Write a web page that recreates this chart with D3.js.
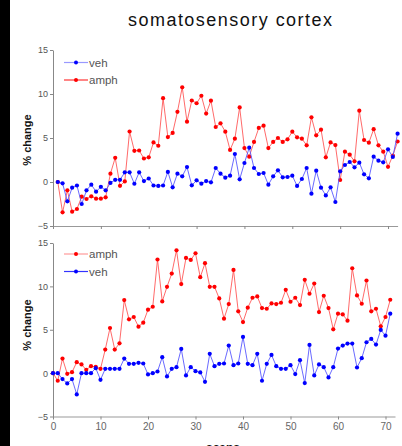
<!DOCTYPE html>
<html><head><meta charset="utf-8">
<script src="https://cdn.jsdelivr.net/npm/d3@7"></script>
<style>body{margin:0;background:#fff}svg{display:block}text{font-family:"Liberation Sans",Arial,Helvetica,sans-serif}</style>
</head><body>
<svg id="c" width="402" height="446"></svg>
<script>
const title = "somatosensory cortex";
const yLabel = "% change";
const xLabel = "scans";
const xTicks = [0,10,20,30,40,50,60,70];
const yTicks = [-5,0,5,10,15];

// top panel: scans 1..72
const topVeh = [0,-0.15,-2.2,-0.65,-0.4,-2.5,-0.95,-0.3,-1.1,-0.55,-0.95,-0.1,0.25,0.25,1.1,1.1,-0.2,1.1,0.1,0.4,-0.4,-0.45,-0.4,1.15,-0.6,0.95,0.65,1.7,-0.38,0.19,-0.19,0.11,-0.04,1.59,0.95,0.49,0.72,3.18,0.3,2.16,3.9,1.59,0.91,1.02,-0.3,0.64,1.33,0.53,0.57,0.72,-0.45,0.34,1.59,-1.33,1.29,-0.64,-1.52,-0.61,-2.27,1.21,1.93,2.27,1.67,2.2,0.87,0.42,2.88,2.42,2.24,3.71,2.84,5.49];
const topAmph = [0,-3.45,-0.95,-3.37,-3.07,-1.67,-1.93,-1.63,-1.9,-1.9,-1.74,0.95,2.75,-0.43,0.06,5.74,3.54,3.58,2.67,2.8,4.5,4.12,9.52,5.1,5.58,7.97,10.76,6.86,9.26,8.95,9.8,7.77,9.24,6.25,6.67,5.72,3.64,4.92,8.48,3.86,2.88,4.55,6.14,6.4,3.86,4.55,5.0,4.55,4.85,5.72,5.08,4.92,4.17,7.35,5.3,5.95,2.8,4.5,4.2,0.23,3.45,3.1,2.35,8.1,4.77,4.47,6.0,4.17,3.45,1.72,3.0,4.6];
// bottom panel: scans 0..71
const botAmph = [0,-0.88,1.68,-0.08,0.11,1.26,1.0,0.38,0.8,0.73,0.5,2.72,5.2,2.72,3.44,8.42,6.2,6.47,5.36,5.82,7.31,7.65,13.1,8.27,9.95,11.48,14.16,10.26,13.28,13.05,13.82,11.06,12.67,9.95,9.95,8.61,6.28,7.96,11.9,7.12,5.89,7.54,8.69,8.84,7.5,7.42,8.04,7.96,8.11,9.6,8.23,8.69,7.85,10.75,9.15,10.33,7.04,8.92,7.5,5.05,6.85,6.77,6.05,12.09,8.96,8.0,10.68,7.12,7.42,5.4,6.47,8.46];
const botVeh = [0,0,-0.69,-1.19,-0.69,-2.45,0,0,0,0.57,-0.77,0.5,0.5,0.5,0.5,1.68,1.07,1.07,1.19,1.11,-0.15,0,0.19,1.84,-0.38,0.5,0.69,2.79,-0.27,0.69,0.23,0.08,-1.0,2.22,0.8,1.07,1.11,3.18,0.92,1.11,4.17,1.07,0.92,2.22,-0.88,1.07,2.1,0.8,0.5,0.5,0.92,-0.11,1.49,-1.15,3.25,-0.27,1.0,0.69,-0.5,0.69,2.83,3.18,3.41,3.41,0.65,1.72,3.56,3.94,3.29,4.98,4.32,6.85];

const svg = d3.select("#c");
svg.append("rect").attr("x",0).attr("y",0).attr("width",10).attr("height",446).attr("fill","#000");
svg.append("text").attr("x",230).attr("y",25.5).attr("text-anchor","middle")
  .attr("font-size",18).attr("textLength",204).attr("lengthAdjust","spacing")
  .attr("fill","#111").text(title);

const RED_L="#ff5050", RED_D="#ff0000", BLUE_L="#5050ff", BLUE_D="#0000ff";

function panel(opt){
  const x = d3.scaleLinear().domain([0,72]).range([53, opt.xEnd]);
  const y = d3.scaleLinear().domain([-5,15]).range([opt.yBot, opt.yTop]);
  const g = svg.append("g");
  const ya = g.append("g").attr("transform","translate(53,0)")
    .call(d3.axisLeft(y).tickValues(yTicks).tickSize(3).tickPadding(2).tickSizeOuter(0));
  ya.select(".domain").attr("stroke","#888");
  ya.selectAll(".tick line").attr("stroke","#888");
  ya.selectAll("text").attr("font-size",9).attr("fill","#555").attr("font-family","Liberation Sans, Arial, sans-serif");
  const xa = g.append("g").attr("transform",`translate(0,${opt.yBot})`)
    .call(d3.axisBottom(x).tickValues(xTicks).tickSize(3).tickPadding(3).tickSizeOuter(0));
  xa.select(".domain").attr("stroke","#999");
  xa.selectAll(".tick line").attr("stroke","#888");
  xa.selectAll("text").attr("font-size",10).attr("fill","#666").attr("font-family","Liberation Sans, Arial, sans-serif");
  if(!opt.xLabels) xa.selectAll("text").remove();
  g.append("text").attr("transform",`translate(31,${opt.labelY}) rotate(-90)`)
    .attr("text-anchor","middle").attr("font-size",11).attr("font-weight","bold").attr("fill","#111").text(yLabel);
  opt.series.forEach(s=>{
    const pts = s.values.map((v,i)=>[x(i+s.start), y(v)]);
    g.append("path").attr("d", d3.line()(pts)).attr("fill","none").attr("stroke",s.line).attr("stroke-width",1).attr("stroke-opacity",0.85);
    g.selectAll(null).data(pts).enter().append("circle")
      .attr("cx",d=>d[0]).attr("cy",d=>d[1]).attr("r",2.1).attr("fill",s.dot);
  });
  opt.legend.forEach((s,k)=>{
    const ly = opt.legY + k*17.5;
    g.append("line").attr("x1",64).attr("x2",88).attr("y1",ly).attr("y2",ly).attr("stroke",s.legLine).attr("stroke-width",1.2);
    g.append("circle").attr("cx",76).attr("cy",ly).attr("r",2).attr("fill",s.dot);
    g.append("text").attr("x",89).attr("y",ly+4).attr("font-size",11.5).attr("fill","#555").text(s.name);
  });
}

panel({
  xEnd: 53+4.786*72, yTop: 50, yBot: 226, labelY: 140, xLabels:false, legY: 62.5,
  series: [
    {name:"amph", values: topAmph, start:1, line:RED_L, dot:RED_D},
    {name:"veh", values: topVeh, start:1, line:BLUE_L, dot:BLUE_D}
  ],
  legend: [
    {name:"veh", legLine:"#9999ff", dot:BLUE_D},
    {name:"amph", legLine:"#ff3333", dot:RED_D}
  ]
});
panel({
  xEnd: 53+4.75*72, yTop: 243, yBot: 416.5, labelY: 325, xLabels:true, legY: 254,
  series: [
    {name:"amph", values: botAmph, start:0, line:RED_L, dot:RED_D},
    {name:"veh", values: botVeh, start:0, line:BLUE_L, dot:BLUE_D}
  ],
  legend: [
    {name:"amph", legLine:"#ff9999", dot:RED_D},
    {name:"veh", legLine:"#3333ff", dot:BLUE_D}
  ]
});
svg.append("text").attr("x",223).attr("y",452).attr("text-anchor","middle")
  .attr("font-size",12).attr("font-weight","bold").attr("fill","#111").text(xLabel);
</script>
</body></html>
